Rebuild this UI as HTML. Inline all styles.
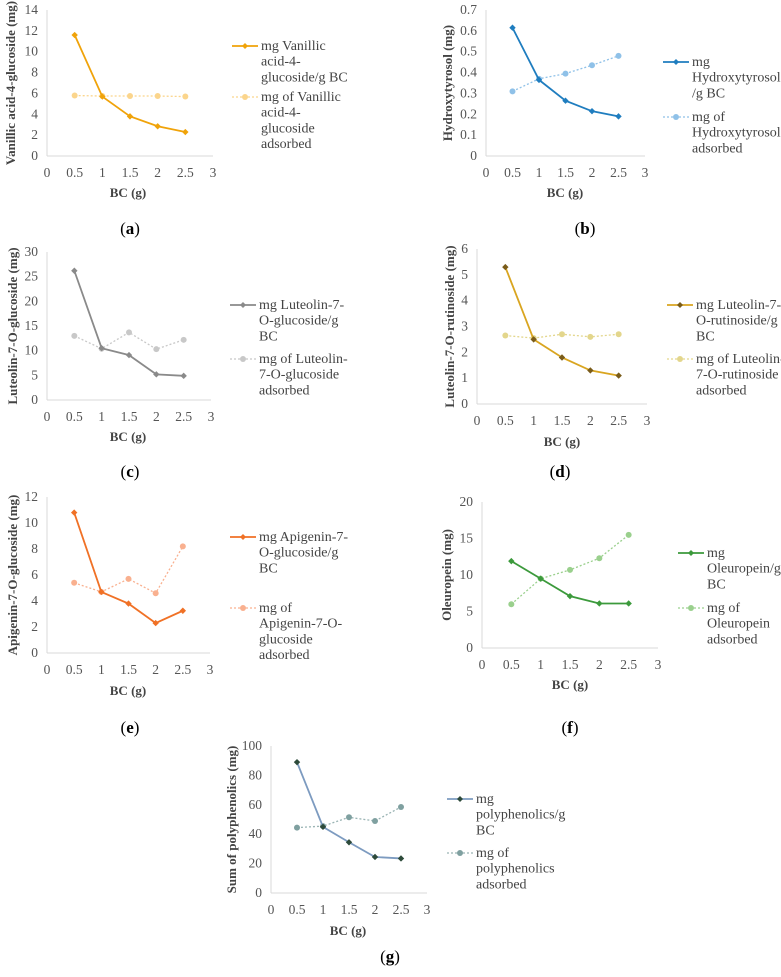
<!DOCTYPE html>
<html><head><meta charset="utf-8"><style>
body{margin:0;background:#fff}
svg{display:block;font-family:"Liberation Serif",serif}
</style></head><body>
<svg id="fig" width="781" height="977"></svg>
<script>
const xCats=[0.5,1,1.5,2,2.5];
const xTicks=[0,0.5,1,1.5,2,2.5,3];
const aPerG=[11.6,5.7,3.8,2.85,2.3];
const aAds=[5.8,5.75,5.75,5.75,5.7];
const bPerG=[0.615,0.365,0.265,0.215,0.19];
const bAds=[0.31,0.37,0.395,0.435,0.48];
const cPerG=[26.2,10.5,9.1,5.2,4.9];
const cAds=[13.0,10.4,13.7,10.3,12.2];
const dPerG=[5.3,2.5,1.8,1.3,1.1];
const dAds=[2.65,2.55,2.7,2.6,2.7];
const ePerG=[10.8,4.7,3.8,2.3,3.25];
const eAds=[5.4,4.7,5.7,4.6,8.2];
const fPerG=[11.9,9.5,7.1,6.1,6.1];
const fAds=[6.0,9.5,10.7,12.3,15.5];
const gPerG=[89,45,34.5,24.5,23.5];
const gAds=[44.5,45.5,51.5,49,58.5];
const aTicks=[0,2,4,6,8,10,12,14];
const bTicks=[0,0.1,0.2,0.3,0.4,0.5,0.6,0.7];
const cTicks=[0,5,10,15,20,25,30];
const dTicks=[0,1,2,3,4,5,6];
const eTicks=[0,2,4,6,8,10,12];
const fTicks=[0,5,10,15,20];
const gTicks=[0,20,40,60,80,100];

const NS="http://www.w3.org/2000/svg";
const svg=document.getElementById('fig');
function mk(tag,attrs,parent,txt){const e=document.createElementNS(NS,tag);for(const k in attrs)e.setAttribute(k,attrs[k]);if(txt!==undefined)e.textContent=txt;(parent||svg).appendChild(e);return e;}

const panels=[
 {id:'a',s1:aPerG,s2:aAds,ticks:aTicks,ax:47,x3:213,yt:10,y0:156,title:'Vanillic  acid-4-glucoside  (mg)',tx:11,c1:'#f0a30a',m1:'#f0a30a',c2:'#fbd58c',lx:232,l1y:46,l1:['mg Vanillic','acid-4-','glucoside/g BC'],l2y:97,l2:['mg of Vanillic','acid-4-','glucoside','adsorbed'],bcx:128,bcy:197,lab:'a',labx:130,laby:234},
 {id:'b',s1:bPerG,s2:bAds,ticks:bTicks,ax:486,x3:645,yt:10,y0:156,title:'Hydroxytyrosol (mg)',tx:448,c1:'#1f7dbf',m1:'#1f7dbf',c2:'#8fc1e8',lx:663,l1y:62,l1:['mg','Hydroxytyrosol','/g BC'],l2y:117,l2:['mg of','Hydroxytyrosol','adsorbed'],bcx:565,bcy:197,lab:'b',labx:585,laby:234},
 {id:'c',s1:cPerG,s2:cAds,ticks:cTicks,ax:47,x3:211,yt:252,y0:400,title:'Luteolin-7-O-glucoside  (mg)',tx:13,c1:'#8a8a8a',m1:'#8a8a8a',c2:'#c8c8c8',lx:230,l1y:305,l1:['mg Luteolin-7-','O-glucoside/g','BC'],l2y:359,l2:['mg of Luteolin-','7-O-glucoside','adsorbed'],bcx:128,bcy:441,lab:'c',labx:130,laby:477},
 {id:'d',s1:dPerG,s2:dAds,ticks:dTicks,ax:477,x3:647,yt:249,y0:404,title:'Luteolin-7-O-rutinoside (mg)',tx:450,c1:'#d9a520',m1:'#7a5c1a',c2:'#e3d68c',lx:667,l1y:305,l1:['mg Luteolin-7-','O-rutinoside/g','BC'],l2y:359,l2:['mg of Luteolin-','7-O-rutinoside','adsorbed'],bcx:562,bcy:446,lab:'d',labx:560,laby:477},
 {id:'e',s1:ePerG,s2:eAds,ticks:eTicks,ax:47,x3:210,yt:497,y0:653,title:'Apigenin-7-O-glucoside (mg)',tx:13,c1:'#f07126',m1:'#f07126',c2:'#f9b08f',lx:230,l1y:537,l1:['mg Apigenin-7-','O-glucoside/g','BC'],l2y:608,l2:['mg of','Apigenin-7-O-','glucoside','adsorbed'],bcx:128,bcy:695,lab:'e',labx:130,laby:733},
 {id:'f',s1:fPerG,s2:fAds,ticks:fTicks,ax:482,x3:658,yt:502,y0:648,title:'Oleuropein  (mg)',tx:447,c1:'#3c9a3c',m1:'#3c9a3c',c2:'#9ad08d',lx:678,l1y:553,l1:['mg','Oleuropein/g','BC'],l2y:608,l2:['mg of','Oleuropein','adsorbed'],bcx:570,bcy:689,lab:'f',labx:570,laby:733},
 {id:'g',s1:gPerG,s2:gAds,ticks:gTicks,ax:271,x3:427,yt:746,y0:893,title:'Sum of polyphenolics  (mg)',tx:232,c1:'#7d9bc0',m1:'#2d4a3a',c2:'#9ab4b4',m2:'#7fa0a0',lx:447,l1y:799,l1:['mg','polyphenolics/g','BC'],l2y:853,l2:['mg of','polyphenolics','adsorbed'],bcx:348,bcy:935,lab:'g',labx:390,laby:962}
];

panels.forEach(p=>{
  const g=mk('g',{});
  
  
  const ymax=p.ticks[p.ticks.length-1];
  const X=v=>p.ax+(p.x3-p.ax)*v/3;
  const Y=v=>p.y0-(p.y0-p.yt)*v/ymax;
  const ya=mk('line',{x1:p.ax,y1:p.yt,x2:p.ax,y2:p.y0,stroke:'#d9d9d9','stroke-width':1},g);
  
  const xa=mk('line',{x1:p.ax,y1:p.y0,x2:p.x3,y2:p.y0,stroke:'#d9d9d9','stroke-width':1},g);
  
  p.ticks.forEach(t=>{
    const e=mk('text',{x:p.ax-9,y:Y(t)+4,'text-anchor':'end','font-size':13.5,fill:'#555'},g,String(t));
    
  });
  xTicks.forEach(t=>{
    const e=mk('text',{x:X(t),y:p.y0+21,'text-anchor':'middle','font-size':13.5,fill:'#555'},g,String(t));
    
  });
  const bc=mk('text',{x:p.bcx,y:p.bcy,'text-anchor':'middle','font-size':13,'font-weight':'bold',fill:'#444'},g,'BC (g)');
  
  const cy=(p.yt+p.y0)/2;
  const yt=mk('text',{x:p.tx+4,y:cy,'text-anchor':'middle','font-size':13,'font-weight':'bold',fill:'#444',transform:`rotate(-90 ${p.tx+4} ${cy})`},g,p.title);
  
  const lb=mk('text',{x:p.labx,y:p.laby,'text-anchor':'middle','font-size':17,fill:'#000'},g);
  
  mk('tspan',{},lb,'(');mk('tspan',{'font-weight':'bold'},lb,p.lab);mk('tspan',{},lb,')');
  const pts2=xCats.map((x,i)=>X(x)+','+Y(p.s2[i])).join(' ');
  const l2=mk('polyline',{points:pts2,fill:'none',stroke:p.c2,'stroke-width':1.3,'stroke-dasharray':'2,2'},g);
  
  xCats.forEach((x,i)=>{
    const c=mk('circle',{cx:X(x),cy:Y(p.s2[i]),r:3,fill:p.m2||p.c2},g);
    
  });
  const pts1=xCats.map((x,i)=>X(x)+','+Y(p.s1[i])).join(' ');
  const l1=mk('polyline',{points:pts1,fill:'none',stroke:p.c1,'stroke-width':1.8},g);
  
  xCats.forEach((x,i)=>{
    const cx=X(x),cyy=Y(p.s1[i]);
    const d=mk('polygon',{points:`${cx},${cyy-3.2} ${cx+3.2},${cyy} ${cx},${cyy+3.2} ${cx-3.2},${cyy}`,fill:p.m1},g);
    
  });
  const lg=mk('g',{},g);
  
  const e1=mk('line',{x1:p.lx,y1:p.l1y,x2:p.lx+26,y2:p.l1y,stroke:p.c1,'stroke-width':1.8},lg);
  
  const mx=p.lx+13;
  mk('polygon',{points:`${mx},${p.l1y-3} ${mx+3},${p.l1y} ${mx},${p.l1y+3} ${mx-3},${p.l1y}`,fill:p.m1},lg);
  p.l1.forEach((s,i)=>{
    const t=mk('text',{x:p.lx+29,y:p.l1y+4+i*15.7,'font-size':14,fill:'#444'},lg,s);
    
  });
  const e2=mk('line',{x1:p.lx,y1:p.l2y,x2:p.lx+26,y2:p.l2y,stroke:p.c2,'stroke-width':1.3,'stroke-dasharray':'2,2'},lg);
  
  mk('circle',{cx:mx,cy:p.l2y,r:3,fill:p.m2||p.c2},lg);
  p.l2.forEach((s,i)=>{
    const t=mk('text',{x:p.lx+29,y:p.l2y+4+i*15.7,'font-size':14,fill:'#444'},lg,s);
    
  });
});
</script>
</body></html>
